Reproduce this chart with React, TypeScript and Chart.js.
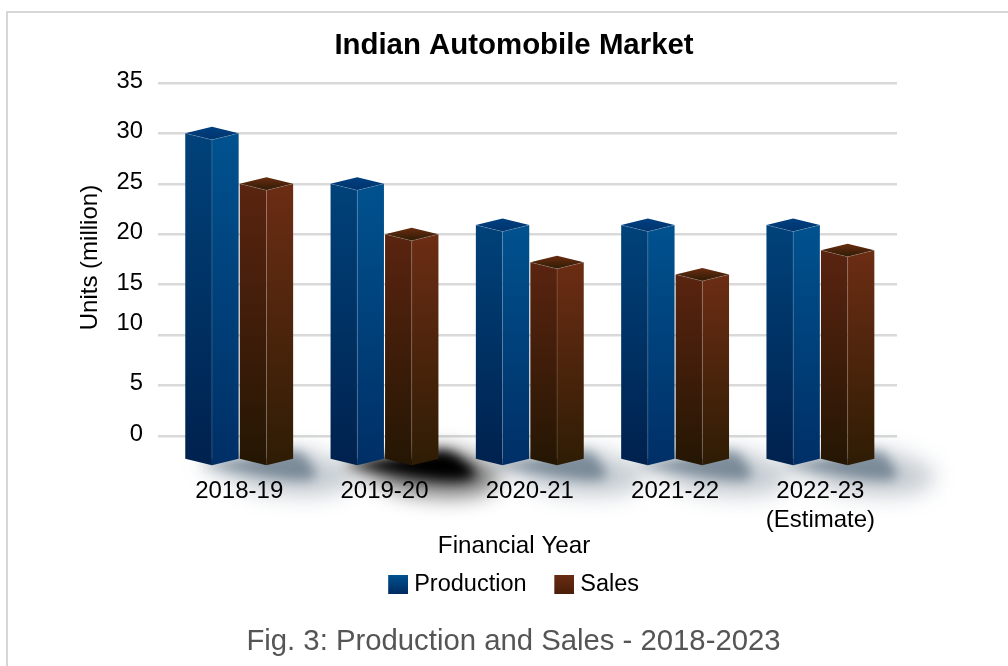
import React, { useEffect, useRef } from "react";
import { Chart, BarController, BarElement, registerables } from "chart.js";

const FONT_FAMILY = "'Liberation Sans', Arial, sans-serif";

const categories = ["2018-19", "2019-20", "2020-21", "2021-22", ["2022-23", "(Estimate)"]];
const production = [30, 25, 20.9, 20.9, 20.9];
const sales = [25, 20, 17.2, 16, 18.4];
const yTicks = [0, 5, 10, 15, 20, 25, 30, 35];
const shadowTones = ["#3c5368", "#000000", "#3c5368", "#3c5368", "#3c5368"];

const AXIS_FLOOR = -2.29;
const CATEGORY_STEP = 145.3;
const FIRST_CATEGORY_OFFSET = 81.2;
const CAP_DEPTH = 6.5;
const PRODUCTION_COLOR = "#00528f";
const SALES_COLOR = "#6c2d14";

const faces: Record<string, any> = {
  [PRODUCTION_COLOR]: {
    left: ["#00427a", "#00214e"],
    right: ["#00528f", "#002f66"],
    cap: ["#003f80", "#00356e"],
    swatch: ["#00528f", "#002a60"],
  },
  [SALES_COLOR]: {
    left: ["#5a2410", "#241603"],
    right: ["#6c2d14", "#2e1c04"],
    cap: ["#6a2d10", "#2e1b06"],
    swatch: ["#6a2c14", "#4a1e08"],
  },
};

// A bar drawn as a four-sided prism standing on the axis floor.
class PrismElement extends BarElement {
  static id = "prism";

  draw(ctx: CanvasRenderingContext2D) {
    const { x, y, base, width } = (this as any).getProps(["x", "y", "base", "width"], true);
    const set = faces[(this as any).options.backgroundColor];
    const l = x - width / 2;
    const r = x + width / 2;
    const vertical = (colors: string[]) => {
      const g = ctx.createLinearGradient(0, y, 0, base + CAP_DEPTH);
      g.addColorStop(0, colors[0]);
      g.addColorStop(1, colors[1]);
      return g;
    };
    const fill = (points: number[][], style: any) => {
      ctx.beginPath();
      points.forEach(([px, py], i) => (i ? ctx.lineTo(px, py) : ctx.moveTo(px, py)));
      ctx.closePath();
      ctx.fillStyle = style;
      ctx.fill();
    };
    ctx.save();
    fill([[l, y], [x, y + CAP_DEPTH], [x, base + CAP_DEPTH], [l, base]], vertical(set.left));
    fill([[x, y + CAP_DEPTH], [r, y], [r, base], [x, base + CAP_DEPTH]], vertical(set.right));

    const cap = ctx.createLinearGradient(0, y - CAP_DEPTH, 0, y + CAP_DEPTH);
    cap.addColorStop(0, set.cap[0]);
    cap.addColorStop(1, set.cap[1]);
    fill([[l, y], [x, y - CAP_DEPTH], [r, y], [x, y + CAP_DEPTH]], cap);

    ctx.strokeStyle = "rgba(255,255,255,0.14)";
    ctx.lineWidth = 1;
    ctx.beginPath();
    ctx.moveTo(l, y);
    ctx.lineTo(x, y + CAP_DEPTH);
    ctx.lineTo(r, y);
    ctx.moveTo(x, y + CAP_DEPTH);
    ctx.lineTo(x, base);
    ctx.stroke();
    ctx.restore();
  }
}

class PrismController extends BarController {
  static id = "prismBar";
  static defaults = { ...BarController.defaults, dataElementType: "prism" };
}

Chart.register(...registerables, PrismElement, PrismController);

// Legend key: the colour square sits at the right of a slightly wider canvas.
const makeSwatch = (color: string) => {
  const c = document.createElement("canvas");
  c.width = 25;
  c.height = 19;
  const g = c.getContext("2d")!;
  const grad = g.createLinearGradient(0, 0, 0, 19);
  grad.addColorStop(0, faces[color].swatch[0]);
  grad.addColorStop(1, faces[color].swatch[1]);
  g.fillStyle = grad;
  g.fillRect(5, 0, 20, 19);
  return c;
};

// Soft ground shadow cast to the right of each pair of bars.
const groundShadow = {
  id: "groundShadow",
  beforeDatasetsDraw(chart: any) {
    const { ctx } = chart;
    const first = chart.getDatasetMeta(0).data;
    const second = chart.getDatasetMeta(1).data;
    first.forEach((bar: any, i: number) => {
      const L = bar.x - bar.width / 2;
      const R = second[i].x + second[i].width / 2;
      const B = bar.base;
      const tone = shadowTones[i];
      const solid = tone === "#000000";
      const layer = (blur: number, alpha: number, reach: number, drop: number) => {
        ctx.save();
        ctx.filter = `blur(${blur}px)`;
        ctx.globalAlpha = alpha;
        ctx.fillStyle = tone;
        ctx.beginPath();
        ctx.moveTo(L + 12, B + 6);
        ctx.lineTo(R - 10, B - 6);
        ctx.bezierCurveTo(R + 8, B - 12, R + reach * 0.5, B - 6, R + reach, B + 12);
        ctx.bezierCurveTo(R + reach + 4, B + drop, R + 10, B + drop, L + 70, B + drop - 8);
        ctx.closePath();
        ctx.fill();
        ctx.restore();
      };
      layer(11, solid ? 0.6 : 0.3, 60, 40);
      layer(6, solid ? 1 : 0.55, solid ? 36 : 22, 24);
    });
  },
};

export default function App() {
  const canvasRef = useRef<HTMLCanvasElement>(null);

  useEffect(() => {
    const chart = new Chart(canvasRef.current!, {
      type: "prismBar" as any,
      data: {
        labels: categories as any,
        datasets: [
          { label: "Production", data: production, base: AXIS_FLOOR, clip: false, backgroundColor: PRODUCTION_COLOR },
          { label: "Sales", data: sales, base: AXIS_FLOOR, clip: false, backgroundColor: SALES_COLOR },
        ] as any,
      },
      plugins: [groundShadow],
      options: {
        responsive: false,
        animation: false,
        categoryPercentage: 0.75,
        barPercentage: 0.98,
        layout: { padding: { left: 20, right: 0, top: 0, bottom: 59.5 } },
        plugins: {
          tooltip: { enabled: false },
          title: {
            display: true,
            text: "Indian Automobile Market",
            color: "#000",
            font: { family: FONT_FAMILY, size: 29.4, weight: "bold" },
            padding: { top: 28.4, bottom: 19.3 },
          },
          legend: {
            position: "bottom",
            onClick: () => {},
            labels: {
              color: "#000",
              font: { family: FONT_FAMILY, size: 23.5 },
              padding: 28.5,
              usePointStyle: true,
              pointStyleWidth: 13.5,
              generateLabels: (c: any) =>
                c.data.datasets.map((d: any, i: number) => ({
                  text: d.label,
                  datasetIndex: i,
                  fontColor: "#000",
                  lineWidth: 0,
                  pointStyle: makeSwatch(d.backgroundColor),
                })),
            },
          },
        },
        scales: {
          x: {
            grid: { display: false },
            border: { display: false },
            ticks: {
              z: 1,
              color: "#000",
              autoSkip: false,
              maxRotation: 0,
              padding: 10,
              font: { family: FONT_FAMILY, size: 24, lineHeight: 1.21 },
            },
            title: {
              display: true,
              text: "Financial Year    ",
              color: "#000",
              font: { family: FONT_FAMILY, size: 24.2 },
              padding: { top: 0, bottom: -16.5 },
            },
            afterFit: (s: any) => {
              s.height = 85.7;
            },
            afterUpdate: (s: any) => {
              s._valueRange = s.width / CATEGORY_STEP;
              s._startValue = -FIRST_CATEGORY_OFFSET / CATEGORY_STEP;
            },
          },
          y: {
            min: AXIS_FLOOR,
            max: 35,
            grid: { color: "#d9d9d9", lineWidth: 2.4, drawTicks: false },
            border: { display: false },
            afterBuildTicks: (s: any) => {
              s.ticks = yTicks.map((value) => ({ value }));
            },
            ticks: {
              color: "#000",
              padding: 15,
              labelOffset: -1.5,
              font: { family: FONT_FAMILY, size: 23.8, lineHeight: 0.8 },
              callback: (v: any) => (v === 10 ? ["10", ""] : String(v)),
            },
            title: {
              display: true,
              text: "    Units (million)",
              color: "#000",
              font: { family: FONT_FAMILY, size: 24 },
              padding: { top: 56, bottom: 0 },
            },
            afterFit: (s: any) => {
              s.width = 138;
            },
          },
          rightGutter: {
            position: "right",
            grid: { display: false },
            border: { display: false },
            ticks: { display: false },
            afterFit: (s: any) => {
              s.width = 111;
            },
          },
        },
      } as any,
    });
    return () => chart.destroy();
  }, []);

  return (
    <div style={{ position: "fixed", left: 0, top: 0, width: 1008, height: 666, overflow: "hidden", background: "#fff" }}>
      <div
        style={{
          position: "absolute",
          left: 6,
          top: 11,
          right: 0,
          bottom: 0,
          borderTop: "2.5px solid #d6d6d6",
          borderLeft: "2.5px solid #d6d6d6",
        }}
      />
      <canvas ref={canvasRef} width={1008} height={666} style={{ position: "absolute", left: 0, top: 0 }} />
      <div
        style={{
          position: "absolute",
          left: 0,
          width: 1027,
          top: 622,
          textAlign: "center",
          font: `29.3px ${FONT_FAMILY}`,
          lineHeight: "36px",
          color: "#555",
        }}
      >
        Fig. 3: Production and Sales - 2018-2023
      </div>
    </div>
  );
}
